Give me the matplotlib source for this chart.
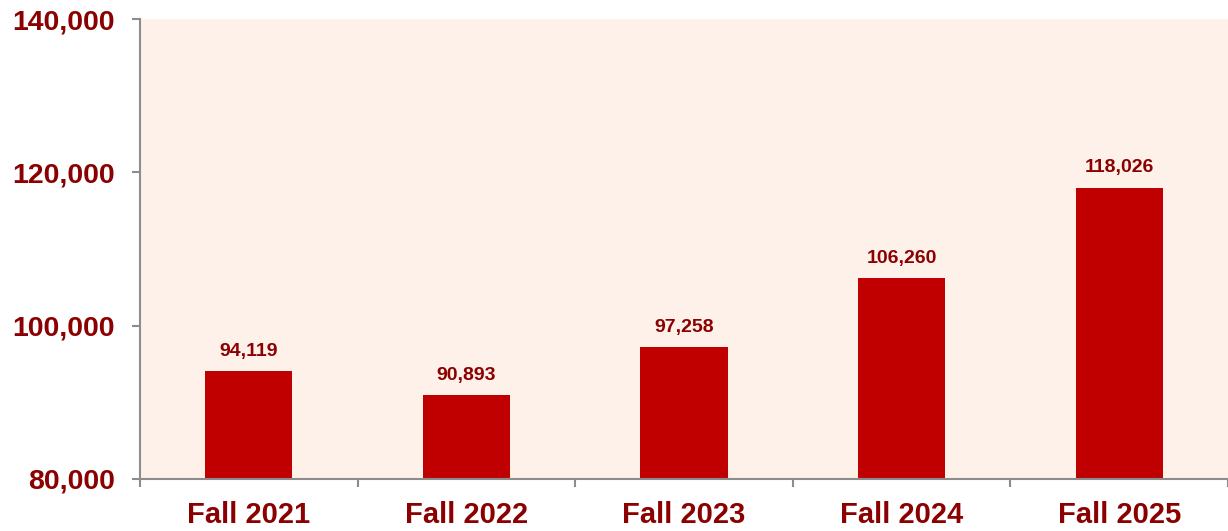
import matplotlib
matplotlib.use("Agg")
import matplotlib.pyplot as plt
import numpy as np

categories = ["Fall 2021", "Fall 2022", "Fall 2023", "Fall 2024", "Fall 2025"]
values = [94119, 90893, 97258, 106260, 118026]
yticks = [80000, 100000, 120000, 140000]

BAR = "#C00000"
TXT = "#8B0000"
GRID = "#8C8C8C"

plt.rcParams["font.family"] = ["Liberation Sans", "DejaVu Sans"]

fig = plt.figure(figsize=(12.28, 5.31), dpi=100)
ax = fig.add_axes([0.114, 0.098, 0.886, 0.866])
ax.set_facecolor("#FDF1E9")

x = np.arange(len(categories))
bars = ax.bar(x, values, width=0.4, color=BAR, zorder=2)

for xi, v in zip(x, values):
    ax.annotate(f"{v:,}", (xi, v), xytext=(0, 8), textcoords="offset points",
                ha="center", va="bottom", fontsize=14, fontweight="bold", color=TXT)

ax.set_ylim(80000, 140000)
ax.set_yticks(yticks)
ax.set_yticklabels([f"{t:,}" for t in yticks], fontsize=20.5, fontweight="bold", color=TXT)
ax.set_xlim(-0.5, len(categories) - 0.5)
ax.set_xticks(x)
ax.set_xticklabels(categories, fontsize=21, fontweight="bold", color=TXT)
ax.tick_params(axis="x", which="major", length=0, pad=16)
ax.set_xticks(np.arange(len(categories) + 1) - 0.5, minor=True)
ax.tick_params(axis="x", which="minor", length=6, width=1.5, color=GRID)
ax.tick_params(axis="y", length=6, width=1.5, color=GRID, pad=12)

for s in ["top", "right"]:
    ax.spines[s].set_visible(False)
for s in ["left", "bottom"]:
    ax.spines[s].set_color(GRID)
    ax.spines[s].set_linewidth(1.5)

fig.savefig("out.png", dpi=100, facecolor="white")
